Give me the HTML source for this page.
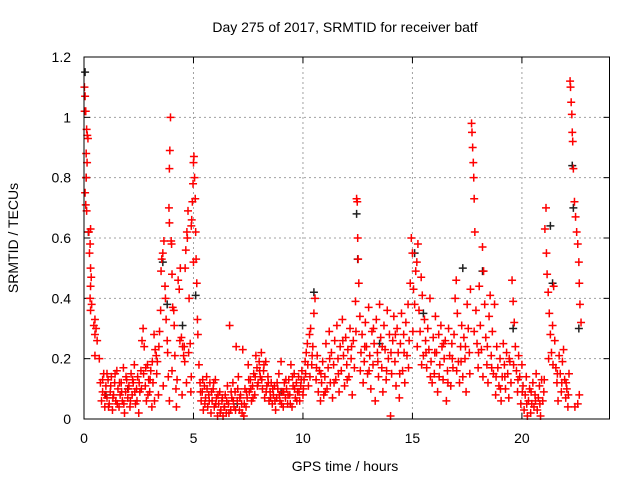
<!DOCTYPE html>
<html><head><meta charset="utf-8">
<style>
html,body{margin:0;padding:0;background:#fff;}
svg{display:block;font-family:"Liberation Sans",sans-serif;}
</style></head>
<body>
<svg id="chart" width="640" height="480" viewBox="0 0 640 480" xmlns="http://www.w3.org/2000/svg">
<rect width="640" height="480" fill="#fff"/>
<text x="345" y="32" font-size="14" text-anchor="middle" fill="#000">Day 275 of 2017, SRMTID for receiver batf</text>
<text x="345" y="471" font-size="14" text-anchor="middle" fill="#000">GPS time / hours</text>
<text x="18" y="238" font-size="14" text-anchor="middle" fill="#000" transform="rotate(-90 18 238)">SRMTID / TECUs</text>
<g id="grid"></g>
<g id="ticks"></g>
<g id="marks"></g>
<rect x="84" y="57" width="525.5" height="362" fill="none" stroke="#000" stroke-width="1"/>
</svg>
<script>
const xTicks=[0,5,10,15,20];
const yTicks=[0,0.2,0.4,0.6,0.8,1,1.2];
const yTickLabels=["0","0.2","0.4","0.6","0.8","1","1.2"];
const redHours=[
0.02,0.05,0.03,0.08,0.12,0.15,0.18,0.10,0.14,0.10,
0.05,0.08,0.12,0.30,0.22,0.28,0.25,0.30,0.33,0.30,
0.28,0.35,0.30,0.50,0.45,0.55,0.50,0.60,0.50,0.70,
0.75,0.8,0.85,0.9,0.95,1.0,1.05,1.1,1.15,1.2,
1.25,1.3,1.35,1.4,1.45,1.5,1.55,1.6,1.65,1.7,
1.75,1.8,1.85,1.9,1.95,2.0,2.05,2.1,2.15,2.2,
2.25,2.3,2.35,2.4,2.45,2.5,2.55,2.6,2.65,2.7,
2.75,2.8,2.85,2.9,2.95,3.0,3.05,3.1,3.15,3.2,
3.25,3.3,3.35,3.4,3.45,3.5,3.52,3.55,3.6,3.65,
3.7,3.72,3.75,3.8,3.85,3.9,3.88,3.9,3.92,3.9,
3.95,3.98,4.0,4.02,4.05,4.1,4.12,4.15,4.2,4.22,
4.3,4.35,4.4,4.45,4.5,4.55,4.6,4.62,4.65,4.7,
4.72,4.75,4.8,4.85,4.9,4.92,4.95,4.98,5.0,5.02,
5.05,5.08,5.1,5.12,5.15,5.18,5.2,5.25,5.0,4.9,
5.3,5.35,5.4,5.45,5.5,5.55,5.6,5.65,5.7,5.75,
5.8,5.85,5.9,5.95,6.0,6.05,6.1,6.15,6.2,6.25,
6.3,6.35,6.4,6.45,6.5,6.55,6.6,6.65,6.7,6.75,
6.8,6.85,6.9,6.95,7.0,7.05,7.1,7.15,7.2,7.25,
7.3,7.35,7.4,7.45,7.5,7.55,7.6,7.65,7.7,7.75,
7.8,7.85,7.9,7.95,8.0,8.05,8.1,8.15,8.2,8.25,
8.3,8.35,8.4,8.45,8.5,8.55,8.6,8.65,8.7,8.75,
8.8,8.85,8.9,8.95,9.0,9.05,9.1,9.15,9.2,9.25,
9.3,9.35,9.4,9.45,9.5,9.55,9.6,9.65,9.7,9.75,
9.8,9.85,9.9,9.95,10.0,10.05,10.1,10.15,10.2,10.25,
10.3,10.35,10.4,10.45,10.5,10.55,10.6,10.65,10.7,10.75,
10.8,10.85,10.9,10.95,11.0,11.05,11.1,11.15,11.2,11.25,
11.3,11.35,11.4,11.45,11.5,11.55,11.6,11.65,11.7,11.75,
11.8,11.85,11.9,11.95,12.0,12.05,12.1,12.15,12.2,12.25,
12.3,12.35,12.4,12.45,12.48,12.5,12.52,12.55,12.6,12.65,
12.7,12.75,12.8,12.85,12.9,12.95,13.0,13.05,13.1,13.15,
13.2,13.25,13.3,13.35,13.4,13.45,13.5,13.55,13.6,13.65,
13.7,13.75,13.8,13.85,13.9,13.95,14.0,14.05,14.1,14.15,
14.2,14.25,14.3,14.35,14.4,14.45,14.5,14.55,14.6,14.65,
14.7,14.75,14.8,14.85,14.9,14.95,15.0,15.05,15.1,15.15,
15.2,15.25,15.3,15.35,15.4,15.45,15.5,15.55,15.6,15.65,
15.7,15.75,15.8,15.85,15.9,15.95,16.0,16.05,16.1,16.15,
16.2,16.25,16.3,16.35,16.4,16.45,16.5,16.55,16.6,16.65,
16.7,16.75,16.8,16.85,16.9,16.95,17.0,17.05,17.1,17.15,
17.2,17.25,17.3,17.35,17.4,17.45,17.5,17.55,17.6,17.65,
17.7,17.72,17.75,17.78,17.8,17.82,17.85,17.9,17.95,18.0,
18.05,18.1,18.15,18.2,18.25,18.3,18.35,18.4,18.45,18.5,
18.55,18.6,18.65,18.7,18.75,18.8,18.85,18.9,18.95,19.0,
19.05,19.1,19.15,19.2,19.25,19.3,19.35,19.4,19.45,19.5,
19.55,19.6,19.65,19.7,19.75,19.8,19.85,19.9,19.95,20.0,
20.05,20.1,20.15,20.2,20.25,20.3,20.35,20.4,20.45,20.5,
20.55,20.6,20.65,20.7,20.75,20.8,20.85,20.9,20.95,21.0,
21.05,21.1,21.12,21.15,21.2,21.25,21.3,21.35,21.4,21.45,
21.5,21.55,21.6,21.65,21.7,21.75,21.8,21.85,21.9,21.95,
22.0,22.05,22.1,22.15,22.2,22.22,22.25,22.28,22.3,22.32,
22.35,22.4,22.45,22.5,22.55,22.6,22.62,22.65,22.7,22.55];
const redValues=[
1.10,1.07,1.02,1.02,0.96,0.94,0.93,0.88,0.85,0.80,
0.75,0.71,0.69,0.63,0.62,0.58,0.55,0.50,0.47,0.44,
0.40,0.38,0.36,0.33,0.31,0.30,0.28,0.26,0.21,0.20,
0.12,0.06,0.09,0.15,0.04,0.11,0.07,0.13,0.05,0.09,
0.14,0.03,0.08,0.12,0.06,0.16,0.10,0.04,0.08,0.12,
0.06,0.17,0.02,0.09,0.13,0.07,0.11,0.04,0.15,0.08,
0.12,0.18,0.05,0.10,0.14,0.02,0.09,0.16,0.26,0.30,
0.24,0.11,0.06,0.18,0.13,0.09,0.16,0.04,0.12,0.28,
0.23,0.21,0.19,0.08,0.29,0.36,0.49,0.53,0.55,0.59,
0.44,0.40,0.33,0.26,0.14,0.06,0.70,0.65,0.89,0.83,
1.00,0.59,0.58,0.48,0.37,0.36,0.31,0.21,0.10,0.04,
0.46,0.43,0.50,0.27,0.24,0.21,0.19,0.50,0.56,0.62,
0.60,0.69,0.40,0.25,0.64,0.66,0.72,0.78,0.85,0.87,
0.80,0.73,0.62,0.53,0.45,0.33,0.28,0.18,0.52,0.14,
0.12,0.06,0.09,0.03,0.11,0.07,0.14,0.04,0.08,0.12,
0.02,0.06,0.10,0.04,0.13,0.07,0.01,0.05,0.09,0.03,
0.06,0.01,0.04,0.08,0.02,0.11,0.05,0.31,0.03,0.07,
0.12,0.04,0.09,0.24,0.06,0.14,0.03,0.08,0.05,0.23,
0.01,0.10,0.04,0.07,0.18,0.09,0.13,0.06,0.11,0.15,
0.08,0.21,0.17,0.12,0.19,0.14,0.22,0.10,0.16,0.07,
0.19,0.11,0.14,0.06,0.09,0.12,0.05,0.08,0.11,0.03,
0.07,0.10,0.15,0.06,0.19,0.09,0.04,0.12,0.07,0.10,
0.05,0.13,0.08,0.18,0.04,0.11,0.15,0.07,0.12,0.09,
0.14,0.06,0.11,0.16,0.08,0.13,0.19,0.22,0.25,0.11,
0.28,0.30,0.18,0.24,0.35,0.40,0.13,0.21,0.09,0.16,
0.06,0.12,0.19,0.08,0.14,0.25,0.10,0.17,0.29,0.12,
0.22,0.07,0.18,0.26,0.13,0.31,0.20,0.09,0.24,0.16,
0.33,0.21,0.11,0.27,0.18,0.23,0.14,0.30,0.20,0.08,
0.26,0.17,0.39,0.73,0.72,0.60,0.53,0.45,0.34,0.22,
0.28,0.12,0.19,0.32,0.24,0.15,0.37,0.21,0.10,0.29,
0.18,0.25,0.06,0.33,0.22,0.14,0.38,0.27,0.17,0.09,
0.31,0.23,0.13,0.36,0.20,0.28,0.01,0.15,0.26,0.34,
0.19,0.11,0.30,0.22,0.07,0.25,0.35,0.16,0.28,0.12,
0.32,0.21,0.38,0.26,0.45,0.60,0.55,0.43,0.38,0.49,
0.52,0.58,0.36,0.29,0.47,0.41,0.21,0.33,0.26,0.17,
0.30,0.23,0.40,0.19,0.12,0.27,0.15,0.34,0.22,0.09,
0.28,0.18,0.31,0.24,0.13,0.20,0.26,0.06,0.16,0.30,
0.21,0.11,0.25,0.17,0.28,0.40,0.46,0.35,0.19,0.12,
0.24,0.31,0.14,0.27,0.20,0.09,0.38,0.30,0.22,0.43,
0.98,0.95,0.90,0.85,0.80,0.73,0.62,0.36,0.25,0.17,
0.44,0.31,0.23,0.57,0.49,0.38,0.27,0.18,0.12,0.34,
0.41,0.21,0.29,0.15,0.38,0.08,0.24,0.17,0.11,0.20,
0.06,0.14,0.25,0.18,0.10,0.22,0.15,0.07,0.19,0.12,
0.46,0.39,0.32,0.24,0.16,0.09,0.21,0.14,0.05,0.18,
0.11,0.03,0.08,0.14,0.01,0.06,0.10,0.02,0.05,0.12,
0.04,0.08,0.15,0.03,0.07,0.11,0.01,0.13,0.06,0.09,
0.63,0.70,0.55,0.48,0.42,0.35,0.28,0.22,0.31,0.44,
0.26,0.17,0.12,0.06,0.21,0.15,0.09,0.19,0.23,0.13,
0.07,0.10,0.04,0.15,1.12,1.10,1.05,1.01,0.95,0.92,
0.83,0.72,0.67,0.62,0.58,0.52,0.45,0.38,0.32,0.05];
const extraRedHours=[
0.85,0.95,1.05,1.12,1.22,1.32,1.42,1.52,1.62,1.72,
1.82,1.92,2.02,2.12,2.22,2.32,2.42,2.52,2.62,2.72,
2.82,2.92,3.02,3.12,3.22,3.32,3.42,3.62,3.82,4.02,
4.25,4.38,4.48,4.58,4.68,4.78,4.88,5.32,5.42,5.52,
5.62,5.72,5.82,5.92,6.02,6.12,6.22,6.32,6.42,6.52,
6.62,6.72,6.82,6.92,7.02,7.12,7.22,7.32,7.42,7.52,
7.62,7.72,7.82,7.92,8.02,8.12,8.22,8.32,8.42,8.52,
8.62,8.72,8.82,8.92,9.02,9.12,9.22,9.32,9.42,9.52,
9.62,9.72,9.82,9.92,10.02,10.12,10.22,10.32,10.42,10.62,
10.82,11.02,11.22,11.42,11.62,11.82,12.02,12.22,12.42,12.62,
12.82,13.02,13.22,13.42,13.62,13.82,14.02,14.22,14.42,14.62,
14.82,15.02,15.22,15.42,15.62,15.82,16.02,16.22,16.42,16.62,
16.82,17.02,17.22,17.42,17.62,17.82,18.02,18.22,18.42,18.62,
18.82,19.02,19.22,19.42,19.62,19.82,20.02,20.22,20.42,20.62,
20.82,21.02,21.22,21.42,21.62,21.82,22.02,22.12,22.42,22.62];
const extraRedValues=[
0.13,0.08,0.15,0.04,0.11,0.07,0.15,0.05,0.12,0.09,
0.05,0.14,0.10,0.06,0.13,0.09,0.06,0.12,0.10,0.15,
0.17,0.08,0.13,0.19,0.06,0.15,0.24,0.11,0.22,0.16,
0.13,0.26,0.08,0.24,0.12,0.22,0.09,0.09,0.13,0.05,
0.10,0.06,0.09,0.12,0.05,0.08,0.02,0.07,0.04,0.06,
0.02,0.09,0.06,0.03,0.10,0.07,0.02,0.05,0.09,0.13,
0.10,0.07,0.14,0.11,0.16,0.13,0.18,0.09,0.12,0.07,
0.10,0.06,0.12,0.08,0.05,0.09,0.13,0.08,0.05,0.14,
0.10,0.06,0.09,0.13,0.10,0.15,0.18,0.14,0.21,0.17,
0.15,0.09,0.20,0.12,0.15,0.26,0.13,0.24,0.29,0.16,
0.24,0.16,0.30,0.19,0.24,0.16,0.22,0.28,0.15,0.22,
0.17,0.29,0.24,0.18,0.22,0.14,0.22,0.14,0.25,0.12,
0.20,0.16,0.19,0.24,0.15,0.29,0.22,0.14,0.24,0.17,
0.14,0.10,0.14,0.20,0.18,0.13,0.09,0.05,0.09,0.06,
0.05,0.13,0.20,0.18,0.15,0.12,0.12,0.08,0.04,0.08];
const blackHours=[0.05,0.1,0.2,1.0,2.0,3.6,3.8,4.5,5.1,7.0,9.0,10.5,12.45,12.5,13.5,15.1,15.5,17.3,18.2,19.6,21.3,21.4,22.3,22.35,22.6];
const blackValues=[1.15,0.80,0.62,0.08,0.10,0.52,0.38,0.31,0.41,0.05,0.09,0.42,0.68,0.53,0.25,0.55,0.35,0.50,0.49,0.30,0.64,0.45,0.84,0.70,0.30];

const X0=84,X1=609.5,Y0=419,Y1=57,XMAX=24,YMAX=1.2;
function sx(v){return X0+(X1-X0)*v/XMAX;}
function sy(v){return Y0-(Y0-Y1)*v/YMAX;}
const NS="http://www.w3.org/2000/svg";
const grid=document.getElementById('grid'),ticks=document.getElementById('ticks'),marks=document.getElementById('marks');
function mk(tag,attrs,parent){const e=document.createElementNS(NS,tag);for(const k in attrs)e.setAttribute(k,attrs[k]);parent.appendChild(e);return e;}
xTicks.forEach(function(t){
  const x=sx(t);
  if(t>0){const g=mk('line',{x1:x,y1:Y0,x2:x,y2:Y1,stroke:'#a0a0a0','stroke-dasharray':'2,3','stroke-width':1},grid);
  
  }
  mk('line',{x1:x,y1:Y0,x2:x,y2:Y0-6,stroke:'#000'},ticks);
  mk('line',{x1:x,y1:Y1,x2:x,y2:Y1+6,stroke:'#000'},ticks);
  const l=mk('text',{x:x,y:443,'font-size':14,'text-anchor':'middle',fill:'#000'},ticks);
  l.textContent=String(t);
  
  
});
yTicks.forEach(function(t,i){
  const y=sy(t);
  if(t>0&&t<YMAX){const g=mk('line',{x1:X0,y1:y,x2:X1,y2:y,stroke:'#a0a0a0','stroke-dasharray':'2,3','stroke-width':1},grid);
  
  }
  mk('line',{x1:X0,y1:y,x2:X0+6,y2:y,stroke:'#000'},ticks);
  mk('line',{x1:X1,y1:y,x2:X1-6,y2:y,stroke:'#000'},ticks);
  const l=mk('text',{x:71,y:y+5,'font-size':14,'text-anchor':'end',fill:'#000'},ticks);
  l.textContent=yTickLabels[i];
  
  
});
function plus(x,y,color){
  return mk('path',{d:'M'+(x-4)+' '+y+'H'+(x+4)+'M'+x+' '+(y-4)+'V'+(y+4),stroke:color,'stroke-width':1.5,fill:'none'},marks);
}
blackHours.forEach(function(h,i){
  const p=plus(sx(h),sy(blackValues[i]),'#202020');
  
  
});
extraRedHours.forEach(function(h,i){
  const p=plus(sx(h),sy(extraRedValues[i]),'#ff0000');
  
  
});
redHours.forEach(function(h,i){
  const p=plus(sx(h),sy(redValues[i]),'#ff0000');
  
  
});
</script>
</body></html>
